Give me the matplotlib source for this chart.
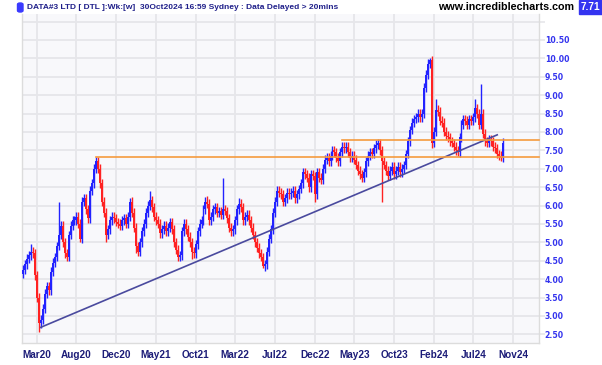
import matplotlib
matplotlib.use("Agg")
import matplotlib.pyplot as plt
from matplotlib.patches import FancyBboxPatch, Rectangle

# ---------------- data (weekly closes) ----------------
closes = [
    4.25, 4.40, 4.55, 4.65, 4.75, 4.70, 4.10, 3.50, 2.80, 2.90,
    3.20, 3.60, 3.80, 3.70, 4.20, 4.45, 4.60, 4.90, 5.20, 5.45,
    5.00, 4.70, 4.60, 5.20, 5.45, 5.60, 5.60, 5.70, 5.50, 5.10,
    6.10, 6.20, 5.90, 5.65, 6.40, 6.60, 7.00, 7.20, 7.00, 6.60,
    6.10, 5.80, 5.20, 5.35, 5.60, 5.70, 5.65, 5.55, 5.50, 5.45,
    5.60, 5.65, 5.50, 5.70, 6.10, 5.80, 5.40, 4.90, 4.75, 5.00,
    5.30, 5.50, 5.80, 6.00, 6.15, 5.95, 5.70, 5.60, 5.50, 5.25,
    5.35, 5.45, 5.30, 5.40, 5.55, 5.35, 5.00, 4.80, 4.60, 4.65,
    5.30, 5.50, 5.35, 5.15, 5.00, 4.75, 4.70, 4.95, 5.30, 5.50,
    5.60, 5.90, 6.10, 6.05, 5.60, 5.70, 5.90, 5.95, 5.80, 5.85,
    5.75, 5.90, 5.85, 5.65, 5.40, 5.30, 5.35, 5.60, 5.90, 6.05,
    5.95, 5.60, 5.70, 5.75, 5.60, 5.40, 5.20, 5.00, 4.85, 4.70,
    4.60, 4.35, 4.40, 4.75, 5.10, 5.35, 5.80, 6.10, 6.40, 6.35,
    6.30, 6.10, 6.20, 6.35, 6.30, 6.35, 6.40, 6.20, 6.30, 6.45,
    6.60, 6.90, 6.85, 6.75, 6.50, 6.85, 6.80, 6.30, 6.90, 6.75,
    6.70, 7.00, 7.25, 7.30, 7.20, 7.35, 7.50, 7.45, 7.30, 7.20,
    7.45, 7.60, 7.55, 7.60, 7.45, 7.30, 7.35, 7.25, 7.10, 6.95,
    6.85, 6.75, 6.90, 7.20, 7.35, 7.45, 7.40, 7.55, 7.65, 7.70,
    7.50, 7.20, 7.10, 6.95, 6.80, 6.95, 7.05, 6.85, 6.95, 7.05,
    6.90, 7.00, 7.10, 7.40, 7.75, 8.05, 8.25, 8.35, 8.40, 8.50,
    8.40, 8.50, 9.20, 9.55, 9.85, 9.95, 7.70, 8.00, 8.60, 8.55,
    8.30, 8.25, 8.00, 7.90, 7.85, 7.75, 7.70, 7.60, 7.50, 7.45,
    7.85, 8.20, 8.35, 8.30, 8.20, 8.35, 8.30, 8.40, 8.65, 8.50,
    8.20, 8.50, 7.95, 7.75, 7.70, 7.80, 7.75, 7.60, 7.55, 7.40,
    7.35, 7.30, 7.71,
]
first_open = 4.15
# notable wick extremes (bar index: price)
spike_highs = {4: 4.95, 18: 6.1, 37: 7.33, 54: 6.2, 64: 6.4, 93: 6.25,
               101: 6.75, 109: 6.2, 179: 7.8, 205: 10.0, 208: 8.9, 228: 8.9, 231: 9.3}
spike_lows = {8: 2.55, 29: 5.0, 42: 5.0, 57: 4.7, 78: 4.5, 85: 4.55,
              121: 4.3, 147: 6.1, 181: 6.1, 206: 7.55, 219: 7.35, 241: 7.22}

x_labels = ["Mar20", "Aug20", "Dec20", "May21", "Oct21", "Mar22", "Jul22",
            "Dec22", "May23", "Oct23", "Feb24", "Jul24", "Nov24"]
y_ticks = [2.5, 3.0, 3.5, 4.0, 4.5, 5.0, 5.5, 6.0, 6.5, 7.0, 7.5, 8.0, 8.5, 9.0, 9.5, 10.0, 10.5]

trend_start = (9, 2.69)
trend_end = (239, 7.92)
support_1 = (37, 7.31)
support_2 = (161, 7.77)
last_price = "7.71"

# ---------------- style ----------------
W, H = 602, 365
UP = "#2222ff"
DOWN = "#ff2222"
WICK = 0.12
GRID = "#e6e6ea"

fig = plt.figure(figsize=(W / 100, H / 100), dpi=100)
fig.patch.set_facecolor("white")
ax = fig.add_axes([22.3 / W, 1 - 343 / H, (538.5 - 22.3) / W, (343 - 14) / H])
ax.set_facecolor("#f8f8fb")

n = len(closes)
opens = [first_open] + closes[:-1]
for i in range(n):
    o, c = opens[i], closes[i]
    col = UP if c >= o else DOWN
    hi = spike_highs.get(i, max(o, c) + WICK)
    lo = spike_lows.get(i, min(o, c) - WICK)
    ax.vlines(i, lo, hi, color=col, lw=1.0, zorder=3)
    bottom = min(o, c)
    height = max(abs(c - o), 0.04)
    ax.bar(i, height, bottom=bottom, width=1.0, color=col, linewidth=0, zorder=3)

xmin, xmax = -0.3, 259.8
ax.set_xlim(xmin, xmax)
ax.set_ylim(2.264, 11.204)

# trend + support lines
ax.plot([trend_start[0], trend_end[0]], [trend_start[1], trend_end[1]],
        color="#4a4a9e", lw=1.2, zorder=4)
for (sx, sy) in (support_1, support_2):
    ax.plot([sx, xmax], [sy, sy], color="#f59b3e", lw=1.2, zorder=4, clip_on=False)

# grid
xt = [7 + 20 * k for k in range(len(x_labels))]
ax.set_xticks(xt)
ax.set_xticklabels(x_labels)
ax.set_yticks(y_ticks + [11.0])
ax.set_yticklabels([f"{v:.2f}" for v in y_ticks] + [""])
ax.grid(True, color=GRID, lw=1.3, zorder=0)
ax.set_axisbelow(True)

ax.yaxis.tick_right()
ax.tick_params(axis="y", length=4, color=GRID, width=1.2, pad=0.5,
               labelsize=5.6, labelcolor="#3333ee")
ax.tick_params(axis="x", length=0, pad=5, labelsize=7.2, labelcolor="#1c1c78")
for lab in ax.get_yticklabels():
    lab.set_fontweight("bold")
    lab.set_family("DejaVu Sans")
for lab in ax.get_xticklabels():
    lab.set_fontweight("bold")
    lab.set_family("Liberation Sans")

ax.spines["top"].set_visible(False)
for s in ("left", "bottom", "right"):
    ax.spines[s].set_color("#dcdcdc")
    ax.spines[s].set_linewidth(1.0)

# ---------------- header ----------------
fig.patches.append(FancyBboxPatch((17.5 / W, 1 - 12 / H), 5.5 / W, 9 / H,
                                  boxstyle="round,pad=0,rounding_size=0.004",
                                  transform=fig.transFigure, color="#3a3aff"))
fig.text(27 / W, 1 - 7.5 / H,
         "DATA#3 LTD [ DTL ]:Wk:[w]  30Oct2024 16:59 Sydney : Data Delayed > 20mins",
         fontsize=6.0, fontweight="bold", color="#20208a", family="Liberation Sans",
         va="center", ha="left")
fig.text(438 / W, 1 - 7 / H, "www.incrediblecharts.com", fontsize=7.75,
         fontweight="bold", color="black", family="Liberation Sans", va="center", ha="left")
fig.patches.append(Rectangle((578.5 / W, 1 - 14 / H), 23.5 / W, 14 / H,
                             transform=fig.transFigure, color="#3434f0"))
fig.text(590 / W, 1 - 7 / H, last_price, fontsize=7.3, fontweight="bold",
         color="white", family="Liberation Sans", va="center", ha="center")

fig.savefig("out.png", dpi=100)
